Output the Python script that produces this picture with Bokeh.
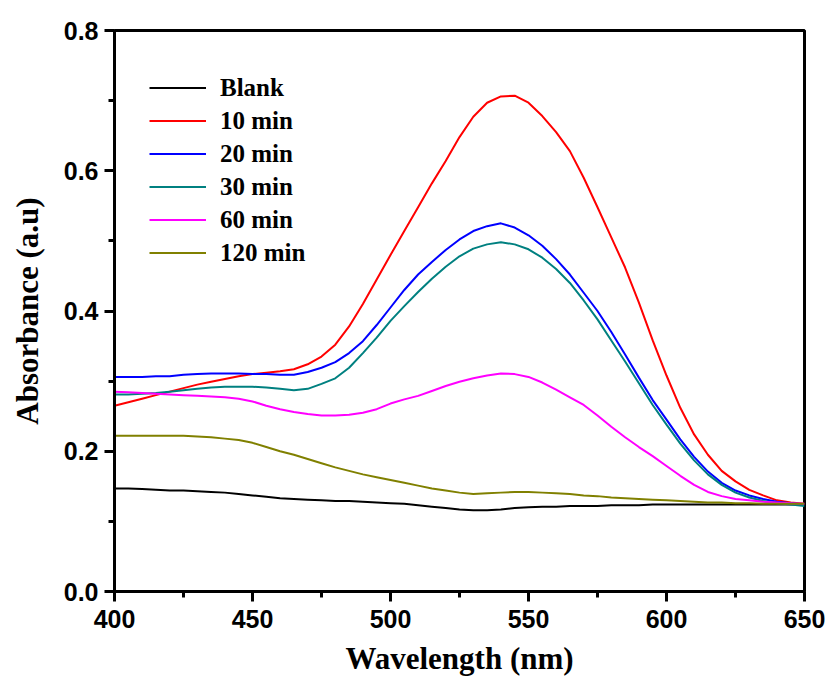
from bokeh.plotting import figure
from bokeh.models import FixedTicker, Range1d, Legend, LegendItem, PrintfTickFormatter
from bokeh.embed import file_html
from bokeh.resources import INLINE

wavelength = [400, 405, 410, 415, 420, 425, 430, 435, 440, 445, 450, 455, 460, 465, 470,
              475, 480, 485, 490, 495, 500, 505, 510, 515, 520, 525, 530, 535, 540, 545,
              550, 555, 560, 565, 570, 575, 580, 585, 590, 595, 600, 605, 610, 615, 620,
              625, 630, 635, 640, 645, 650]

blank = [0.147, 0.147, 0.146, 0.145, 0.144, 0.144, 0.143, 0.142, 0.141, 0.139, 0.137,
         0.135, 0.133, 0.132, 0.131, 0.130, 0.129, 0.129, 0.128, 0.127, 0.126, 0.125,
         0.123, 0.121, 0.119, 0.117, 0.116, 0.116, 0.117, 0.119, 0.120, 0.121, 0.121,
         0.122, 0.122, 0.122, 0.123, 0.123, 0.123, 0.124, 0.124, 0.124, 0.124, 0.124,
         0.124, 0.124, 0.124, 0.124, 0.124, 0.124, 0.124]
min10 = [0.265, 0.270, 0.275, 0.280, 0.285, 0.290, 0.295, 0.299, 0.303, 0.307, 0.310,
         0.312, 0.314, 0.317, 0.324, 0.335, 0.352, 0.378, 0.410, 0.445, 0.480, 0.514,
         0.548, 0.582, 0.614, 0.648, 0.677, 0.697, 0.706, 0.707, 0.697, 0.678, 0.655,
         0.628, 0.590, 0.548, 0.505, 0.462, 0.412, 0.358, 0.308, 0.262, 0.224, 0.195,
         0.172, 0.157, 0.145, 0.137, 0.130, 0.127, 0.125]
min20 = [0.306, 0.306, 0.306, 0.307, 0.307, 0.309, 0.310, 0.311, 0.311, 0.311, 0.310,
         0.310, 0.309, 0.309, 0.313, 0.319, 0.327, 0.340, 0.357, 0.380, 0.405, 0.430,
         0.452, 0.470, 0.487, 0.502, 0.514, 0.521, 0.525, 0.519, 0.508, 0.493, 0.474,
         0.452, 0.426, 0.400, 0.370, 0.338, 0.305, 0.273, 0.245, 0.217, 0.192, 0.171,
         0.155, 0.144, 0.137, 0.132, 0.128, 0.126, 0.124]
min30 = [0.281, 0.281, 0.282, 0.283, 0.285, 0.287, 0.289, 0.291, 0.292, 0.292, 0.292,
         0.291, 0.289, 0.287, 0.289, 0.296, 0.304, 0.319, 0.340, 0.362, 0.386, 0.407,
         0.427, 0.446, 0.463, 0.478, 0.489, 0.495, 0.498, 0.495, 0.488, 0.476, 0.460,
         0.440, 0.415, 0.388, 0.358, 0.328, 0.297, 0.266, 0.238, 0.211, 0.187, 0.167,
         0.152, 0.141, 0.134, 0.129, 0.126, 0.124, 0.122]
min60 = [0.285, 0.284, 0.283, 0.282, 0.281, 0.280, 0.279, 0.278, 0.277, 0.275, 0.271,
         0.265, 0.260, 0.256, 0.253, 0.251, 0.251, 0.252, 0.255, 0.260, 0.268, 0.274,
         0.279, 0.286, 0.293, 0.299, 0.304, 0.308, 0.311, 0.310, 0.306, 0.298, 0.288,
         0.277, 0.266, 0.251, 0.235, 0.220, 0.206, 0.193, 0.179, 0.165, 0.152, 0.142,
         0.136, 0.132, 0.130, 0.128, 0.127, 0.126, 0.125]
min120 = [0.222, 0.222, 0.222, 0.222, 0.222, 0.222, 0.221, 0.220, 0.218, 0.216, 0.212,
          0.206, 0.200, 0.195, 0.189, 0.183, 0.177, 0.172, 0.167, 0.163, 0.159, 0.155,
          0.151, 0.147, 0.144, 0.141, 0.139, 0.140, 0.141, 0.142, 0.142, 0.141, 0.140,
          0.139, 0.137, 0.136, 0.134, 0.133, 0.132, 0.131, 0.130, 0.129, 0.128, 0.127,
          0.127, 0.126, 0.126, 0.125, 0.125, 0.125, 0.125]

series_labels = ["Blank", "10 min", "20 min", "30 min", "60 min", "120 min"]
series_values = [blank, min10, min20, min30, min60, min120]
series_colors = ["#000000", "#ff0000", "#0000ff", "#008080", "#ff00ff", "#808000"]

x_ticks = [400, 450, 500, 550, 600, 650]
x_minor = [425, 475, 525, 575, 625]
y_ticks = [0.0, 0.2, 0.4, 0.6, 0.8]
y_minor = [0.1, 0.3, 0.5, 0.7]

p = figure(width=832, height=679, output_backend="svg", toolbar_location=None,
           x_range=Range1d(400, 650), y_range=Range1d(0, 0.8),
           min_border_left=114, min_border_right=28, min_border_top=30,
           min_border_bottom=88, background_fill_color="white",
           border_fill_color="white")

p.xgrid.visible = False
p.ygrid.visible = False
p.outline_line_color = "black"
p.outline_line_width = 3

items = []
for lab, vals, col in zip(series_labels, series_values, series_colors):
    r = p.line(wavelength, vals, line_color=col, line_width=2)
    items.append(LegendItem(label=lab, renderers=[r]))

legend = Legend(items=items, location=(35, 322), border_line_color=None,
                background_fill_alpha=0, padding=0, margin=0, spacing=0,
                glyph_width=57, glyph_height=33, label_height=33,
                label_standoff=14, label_text_font="Liberation Serif",
                label_text_font_style="bold", label_text_font_size="25px",
                label_text_color="black")
p.add_layout(legend)

for ax in (p.xaxis[0], p.yaxis[0]):
    ax.axis_line_width = 3
    ax.axis_line_color = "black"
    ax.major_tick_line_width = 3
    ax.minor_tick_line_width = 3
    ax.major_tick_in = 0
    ax.major_tick_out = 10
    ax.minor_tick_in = 0
    ax.minor_tick_out = 6
    ax.major_label_text_font = "Liberation Sans"
    ax.major_label_text_font_style = "bold"
    ax.major_label_text_font_size = "25px"
    ax.major_label_text_color = "black"
    ax.axis_label_text_font = "Liberation Serif"
    ax.axis_label_text_font_style = "bold"
    ax.axis_label_text_font_size = "31px"
    ax.axis_label_text_color = "black"

p.xaxis.ticker = FixedTicker(ticks=x_ticks, minor_ticks=x_minor)
p.yaxis.ticker = FixedTicker(ticks=y_ticks, minor_ticks=y_minor)
p.yaxis.formatter = PrintfTickFormatter(format="%.1f")
p.xaxis.axis_label = "Wavelength (nm)"
p.yaxis.axis_label = "Absorbance (a.u)"
p.xaxis.major_label_standoff = 8
p.yaxis.major_label_standoff = 6
p.xaxis.axis_label_standoff = 10
p.yaxis.axis_label_standoff = 16

open("out.html", "w").write(file_html(p, INLINE))
